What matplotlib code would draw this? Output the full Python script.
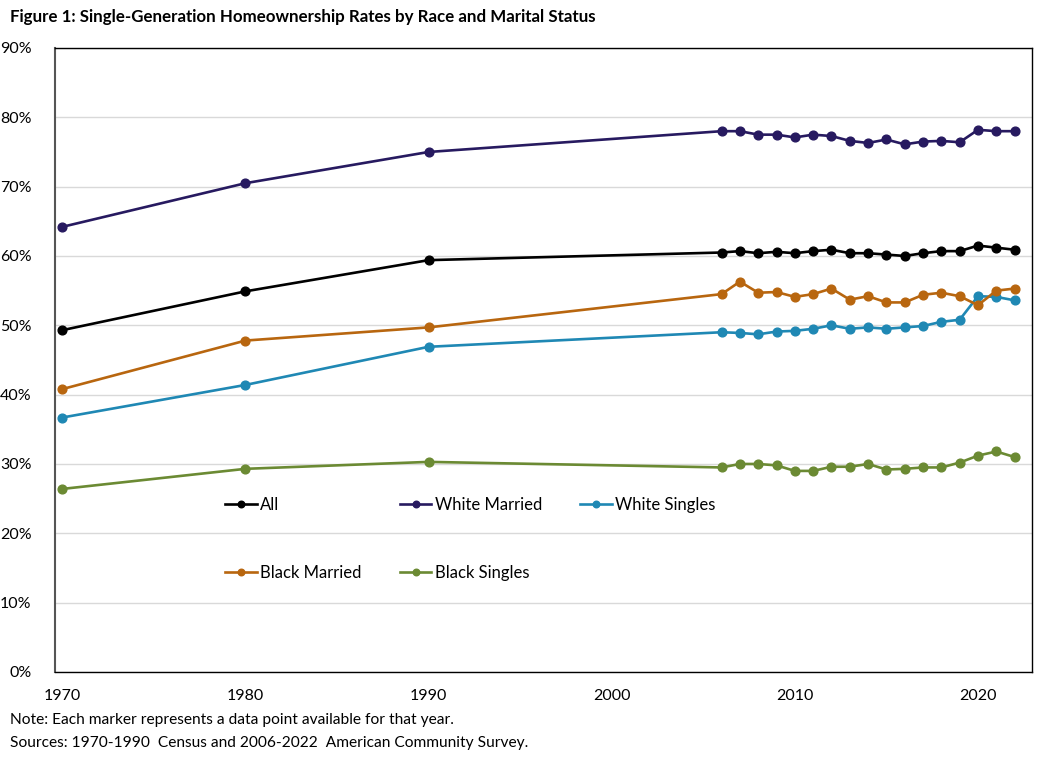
import matplotlib.pyplot as plt
from matplotlib.ticker import MultipleLocator, FuncFormatter


YEARS = [1970, 1980, 1990] + list(range(2006, 2023))

ALL = [49.3, 54.9, 59.4,
       60.5, 60.7, 60.4, 60.6, 60.4, 60.7, 60.9, 60.4, 60.4,
       60.2, 60.0, 60.4, 60.7, 60.7, 61.5, 61.2, 60.9]
WHITE_MARRIED = [64.2, 70.5, 75.0,
                 78.0, 78.0, 77.5, 77.5, 77.1, 77.5, 77.3, 76.6, 76.3,
                 76.8, 76.1, 76.5, 76.6, 76.4, 78.2, 78.0, 78.0]
WHITE_SINGLES = [36.7, 41.4, 46.9,
                 49.0, 48.9, 48.7, 49.1, 49.2, 49.5, 50.0, 49.5, 49.7,
                 49.5, 49.7, 49.9, 50.5, 50.8, 54.2, 54.1, 53.6]
BLACK_MARRIED = [40.8, 47.8, 49.7,
                 54.5, 56.3, 54.7, 54.8, 54.1, 54.5, 55.3, 53.7, 54.2,
                 53.3, 53.3, 54.4, 54.7, 54.2, 52.9, 55.0, 55.3]
BLACK_SINGLES = [26.4, 29.3, 30.3,
                 29.5, 30.0, 30.0, 29.8, 29.0, 29.0, 29.6, 29.6, 30.0,
                 29.2, 29.3, 29.5, 29.5, 30.2, 31.2, 31.8, 31.0]

SERIES = [
    ('All', ALL, '#000000'),
    ('White Married', WHITE_MARRIED, '#271a60'),
    ('White Singles', WHITE_SINGLES, '#1f88b4'),
    ('Black Married', BLACK_MARRIED, '#b8660f'),
    ('Black Singles', BLACK_SINGLES, '#6b8a33'),
]

plt.rcParams['font.family'] = ['Lato', 'DejaVu Sans']

if __name__ == '__main__':
    fig = plt.figure(figsize=(10.44, 7.58), dpi=100)
    ax = fig.add_axes([0.0527, 0.1135, 0.9358, 0.8232])

    handles = {}
    for name, values, color in SERIES:
        line, = ax.plot(YEARS, values, color=color, lw=1.9, marker='o',
                        markersize=6.3, label=name, zorder=3)
        handles[name] = line

    ax.set_xlim(1969.6, 2022.95)
    ax.set_ylim(0, 90)
    ax.yaxis.set_major_locator(MultipleLocator(10))
    ax.xaxis.set_major_locator(MultipleLocator(10))
    ax.yaxis.set_major_formatter(FuncFormatter(lambda v, p: f'{v:.0f}%'))
    ax.grid(axis='y', color='#d9d9d9', lw=1)
    ax.set_axisbelow(True)
    ax.tick_params(axis='both', length=0, labelsize=11.5, colors='#000000')
    ax.tick_params(axis='y', pad=17)
    ax.tick_params(axis='x', pad=12)
    for side in ['top', 'right', 'bottom']:
        ax.spines[side].set_color('#000000')
        ax.spines[side].set_linewidth(1)
    ax.spines['left'].set_color('#555555')
    ax.spines['left'].set_linewidth(1.5)

    order = ['All', 'Black Married', 'White Married', 'Black Singles', 'White Singles']
    ax.legend([handles[n] for n in order], order, ncol=3, frameon=False,
              loc='upper left', bbox_to_anchor=(0.174, 0.280),
              borderaxespad=0, borderpad=0, fontsize=12,
              handlelength=1.9, handletextpad=0.2, markerscale=0.75,
              labelspacing=3.1, columnspacing=2.3)

    fig.text(0.0096, 0.978, 'Figure 1: Single-Generation Homeownership Rates by Race and Marital Status',
             fontsize=12.2, fontweight='bold', va='center', ha='left')
    fig.text(0.0096, 0.050, 'Note: Each marker represents a data point available for that year.',
             fontsize=11.2, va='center', ha='left')
    fig.text(0.0096, 0.020, 'Sources: 1970-1990  Census and 2006-2022  American Community Survey.',
             fontsize=11.2, va='center', ha='left')

    fig.savefig('out.png', dpi=100)
